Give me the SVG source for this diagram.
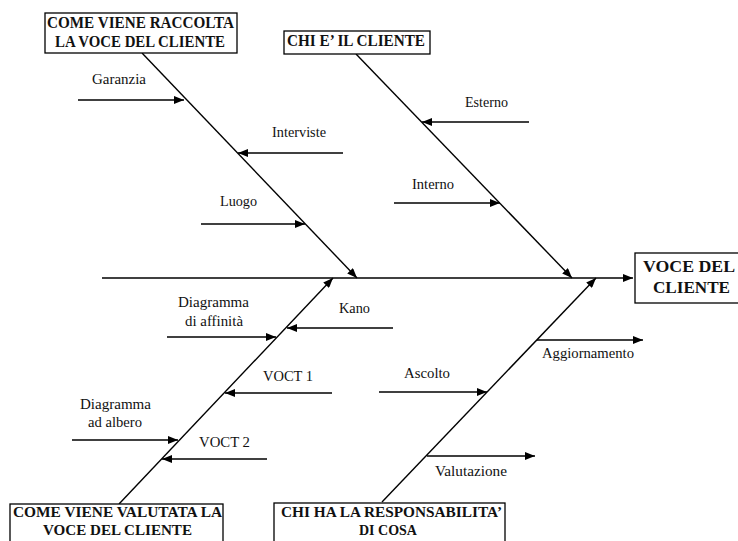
<svg xmlns="http://www.w3.org/2000/svg" width="738" height="541" viewBox="0 0 738 541">
  <defs>
    <marker id="ah" viewBox="0 0 10 8" refX="10" refY="4" markerWidth="11" markerHeight="8" markerUnits="userSpaceOnUse" orient="auto">
      <path d="M0,0 L10,4 L0,8 z" fill="#000"/>
    </marker>
    <style>
      .box { fill: #fff; stroke: #000; stroke-width: 1.3; }
      .hd { font-family: "Liberation Serif", "Times New Roman", serif; font-weight: bold; font-size: 17px; fill: #111; }
      .hs { font-size: 15px; }
      .lb { font-family: "Liberation Serif", "Times New Roman", serif; font-size: 15px; fill: #111; }
      .ln { stroke: #000; stroke-width: 1.4; fill: none; marker-end: url(#ah); }
    </style>
  </defs>
  <rect width="738" height="541" fill="#fff"/>

  <!-- connectors: spine, main bones and sub-causes -->
  <g id="connectors">
    <line class="ln" x1="102" y1="278" x2="633" y2="278"/>
    <line class="ln" x1="142" y1="53" x2="357" y2="278"/>
    <line class="ln" x1="356" y1="54" x2="572" y2="278"/>
    <line class="ln" x1="119" y1="504" x2="333" y2="278"/>
    <line class="ln" x1="382" y1="502" x2="596" y2="278"/>

    <line class="ln" x1="78" y1="100" x2="184" y2="100"/>
    <line class="ln" x1="343" y1="153" x2="238" y2="153"/>
    <line class="ln" x1="201" y1="224" x2="305" y2="224"/>
    <line class="ln" x1="529" y1="122" x2="422" y2="122"/>
    <line class="ln" x1="394" y1="203" x2="500" y2="203"/>

    <line class="ln" x1="167" y1="337" x2="276" y2="337"/>
    <line class="ln" x1="393" y1="328" x2="287" y2="328"/>
    <line class="ln" x1="332" y1="393" x2="225" y2="393"/>
    <line class="ln" x1="72" y1="440" x2="178" y2="440"/>
    <line class="ln" x1="267" y1="459" x2="162" y2="459"/>

    <line class="ln" x1="379" y1="392" x2="487" y2="392"/>
    <line class="ln" x1="427" y1="456" x2="535" y2="456"/>
    <line class="ln" x1="537" y1="340" x2="643" y2="340"/>
  </g>

  <!-- category headers -->
  <g id="raccolta">
    <rect class="box" x="45" y="13" width="192" height="40"/>
    <text class="hd" x="47" y="28" textLength="187" lengthAdjust="spacingAndGlyphs">COME VIENE RACCOLTA</text>
    <text class="hd" x="55" y="47" textLength="170" lengthAdjust="spacingAndGlyphs">LA VOCE DEL CLIENTE</text>
  </g>
  <g id="chi-cliente">
    <rect class="box" x="284" y="31" width="146" height="23"/>
    <text class="hd" x="287" y="46" textLength="138" lengthAdjust="spacingAndGlyphs">CHI E’ IL CLIENTE</text>
  </g>
  <g id="voce-cliente">
    <rect class="box" x="635" y="253" width="112" height="50"/>
    <text class="hd" x="643" y="272" textLength="92" lengthAdjust="spacingAndGlyphs">VOCE DEL</text>
    <text class="hd" x="653" y="293" textLength="77" lengthAdjust="spacingAndGlyphs">CLIENTE</text>
  </g>
  <g id="valutata">
    <rect class="box" x="10" y="504" width="213" height="45"/>
    <text class="hd hs" x="13" y="517" textLength="209" lengthAdjust="spacingAndGlyphs">COME VIENE VALUTATA LA</text>
    <text class="hd hs" x="43" y="535" textLength="149" lengthAdjust="spacingAndGlyphs">VOCE DEL CLIENTE</text>
  </g>
  <g id="responsabilita">
    <rect class="box" x="274" y="503" width="231" height="46"/>
    <text class="hd hs" x="281" y="517" textLength="221" lengthAdjust="spacingAndGlyphs">CHI HA LA RESPONSABILITA’</text>
    <text class="hd hs" x="359" y="535" textLength="58" lengthAdjust="spacingAndGlyphs">DI COSA</text>
  </g>

  <!-- sub-cause labels -->
  <g id="garanzia"><text class="lb" x="92" y="84" textLength="54" lengthAdjust="spacingAndGlyphs">Garanzia</text></g>
  <g id="interviste"><text class="lb" x="272" y="137" textLength="54" lengthAdjust="spacingAndGlyphs">Interviste</text></g>
  <g id="luogo"><text class="lb" x="220" y="206" textLength="37" lengthAdjust="spacingAndGlyphs">Luogo</text></g>
  <g id="esterno"><text class="lb" x="465" y="107" textLength="43" lengthAdjust="spacingAndGlyphs">Esterno</text></g>
  <g id="interno"><text class="lb" x="412" y="189" textLength="42" lengthAdjust="spacingAndGlyphs">Interno</text></g>
  <g id="affinita">
    <text class="lb" x="178" y="307" textLength="71" lengthAdjust="spacingAndGlyphs">Diagramma</text>
    <text class="lb" x="185" y="326" textLength="58" lengthAdjust="spacingAndGlyphs">di affinità</text>
  </g>
  <g id="kano"><text class="lb" x="339" y="313" textLength="31" lengthAdjust="spacingAndGlyphs">Kano</text></g>
  <g id="voct1"><text class="lb" x="263" y="381" textLength="50" lengthAdjust="spacingAndGlyphs">VOCT 1</text></g>
  <g id="albero">
    <text class="lb" x="80" y="409" textLength="71" lengthAdjust="spacingAndGlyphs">Diagramma</text>
    <text class="lb" x="88" y="427" textLength="54" lengthAdjust="spacingAndGlyphs">ad albero</text>
  </g>
  <g id="voct2"><text class="lb" x="199" y="447" textLength="51" lengthAdjust="spacingAndGlyphs">VOCT 2</text></g>
  <g id="ascolto"><text class="lb" x="404" y="378" textLength="46" lengthAdjust="spacingAndGlyphs">Ascolto</text></g>
  <g id="aggiornamento"><text class="lb" x="542" y="358" textLength="92" lengthAdjust="spacingAndGlyphs">Aggiornamento</text></g>
  <g id="valutazione"><text class="lb" x="435" y="476" textLength="72" lengthAdjust="spacingAndGlyphs">Valutazione</text></g>
</svg>
